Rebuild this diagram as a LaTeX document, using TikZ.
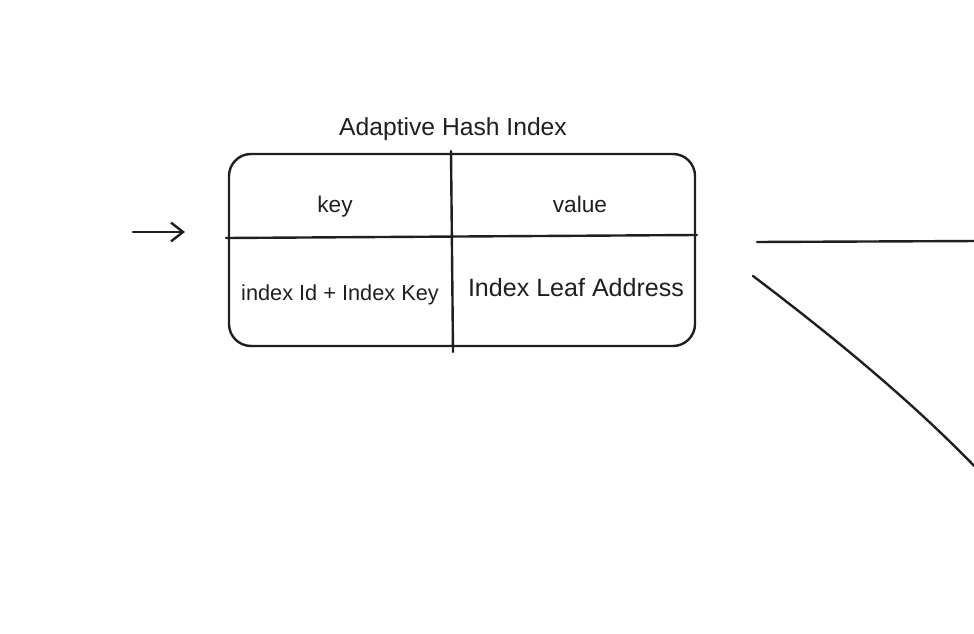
\documentclass[tikz,border=0pt]{standalone}
\usepackage{fontspec}
\setmainfont{Liberation Sans}
\usetikzlibrary{arrows.meta}
\tikzset{
  ink/.style={draw=black!88, line width=1.8pt, line cap=round},
  cellbox/.style={ink, rounded corners=16.5pt, minimum width=349.5pt, minimum height=144pt, inner sep=0pt},
  lbl/.style={inner sep=0pt, text=black!88},
}
\begin{document}
\begin{tikzpicture}[x=0.75pt,y=-0.75pt]
\useasboundingbox (0,0) rectangle (974,634);
% box
\node[cellbox] (box) at (462,250) {};
\coordinate (vtop) at (451,151);
\coordinate (vbot) at (453,352);
\coordinate (hleft) at (226,238);
\coordinate (hright) at (697,235);
\draw[ink] (vtop) -- (vbot);
\draw[ink] (hleft) -- (hright);
% texts
\node[lbl, font=\fontsize{18.5}{20}\selectfont] (title) at (453,129) {Adaptive Hash Index};
\node[lbl, font=\fontsize{17}{20}\selectfont] (key) at (335,207) {key};
\node[lbl, font=\fontsize{17}{20}\selectfont] (value) at (580,204) {value};
\node[lbl, font=\fontsize{16.3}{20}\selectfont] (ikey) at (340,295) {index Id + Index Key};
\node[lbl, font=\fontsize{18.8}{20}\selectfont] (addr) at (576,288) {Index Leaf Address};
% arrow
\coordinate (a1) at (133,232);
\coordinate (a2) at (185,232);
\draw[ink, -{Straight Barb[length=9pt,width=14pt,line width=1.8pt]}] (a1) -- (a2);
% right lines
\coordinate (h1) at (757,242);
\coordinate (h2) at (980,241);
\draw[ink] (h1) -- (h2);
\coordinate (d1) at (753,276);
\coordinate (d2) at (980,472);
\draw[ink] (d1) .. controls (835,338) and (915,404) .. (d2);
\end{tikzpicture}
\end{document}
